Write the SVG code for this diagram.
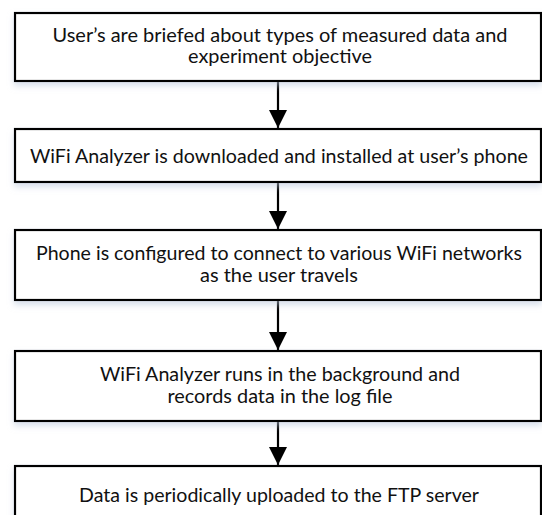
<svg xmlns="http://www.w3.org/2000/svg" width="542" height="515" viewBox="0 0 542 515">
<defs>
<style>
.box{fill:#ffffff;stroke:#000000;stroke-width:2.2;filter:url(#sh)}
.t{font-family:Lato,"Open Sans","Liberation Sans",sans-serif;font-size:18.5px;fill:#111111;text-anchor:middle}
.c{stroke:#000000;stroke-width:2.2;fill:none;marker-end:url(#ah)}
</style>
<filter id="sh" x="-5%" y="-20%" width="110%" height="150%">
<feDropShadow dx="0" dy="4" stdDeviation="3" flood-color="#b8c6dc" flood-opacity="0.55"/>
</filter>
<marker id="ah" viewBox="0 0 18 18" refX="18" refY="9" markerWidth="18" markerHeight="18" markerUnits="userSpaceOnUse" orient="auto">
<path d="M0,0 L18,9 L0,18 Z" fill="#000000"/>
</marker>
</defs>
<g id="connectors">
<line class="c" x1="278" y1="81" x2="278" y2="128"/>
<line class="c" x1="278" y1="182" x2="278" y2="229"/>
<line class="c" x1="278" y1="300" x2="278" y2="350"/>
<line class="c" x1="278" y1="421" x2="278" y2="465"/>
</g>
<g id="n1">
<rect class="box" x="15" y="13" width="526" height="68"/>
<text class="t" x="280" y="42" textLength="455" lengthAdjust="spacingAndGlyphs">User’s are briefed about types of measured data and</text>
<text class="t" x="280" y="63" textLength="184" lengthAdjust="spacingAndGlyphs">experiment objective</text>
</g>
<g id="n2">
<rect class="box" x="15" y="129" width="526" height="53"/>
<text class="t" x="279" y="163" textLength="498" lengthAdjust="spacingAndGlyphs">WiFi Analyzer is downloaded and installed at user’s phone</text>
</g>
<g id="n3">
<rect class="box" x="15" y="230" width="526" height="70"/>
<text class="t" x="279" y="260" textLength="486" lengthAdjust="spacingAndGlyphs">Phone is configured to connect to various WiFi networks</text>
<text class="t" x="279" y="282" textLength="158" lengthAdjust="spacingAndGlyphs">as the user travels</text>
</g>
<g id="n4">
<rect class="box" x="15" y="351" width="526" height="70"/>
<text class="t" x="280" y="381" textLength="360" lengthAdjust="spacingAndGlyphs">WiFi Analyzer runs in the background and</text>
<text class="t" x="280" y="403" textLength="225" lengthAdjust="spacingAndGlyphs">records data in the log file</text>
</g>
<g id="n5">
<rect class="box" x="15" y="466" width="526" height="70"/>
<text class="t" x="279" y="502" textLength="400" lengthAdjust="spacingAndGlyphs">Data is periodically uploaded to the FTP server</text>
</g>
</svg>
